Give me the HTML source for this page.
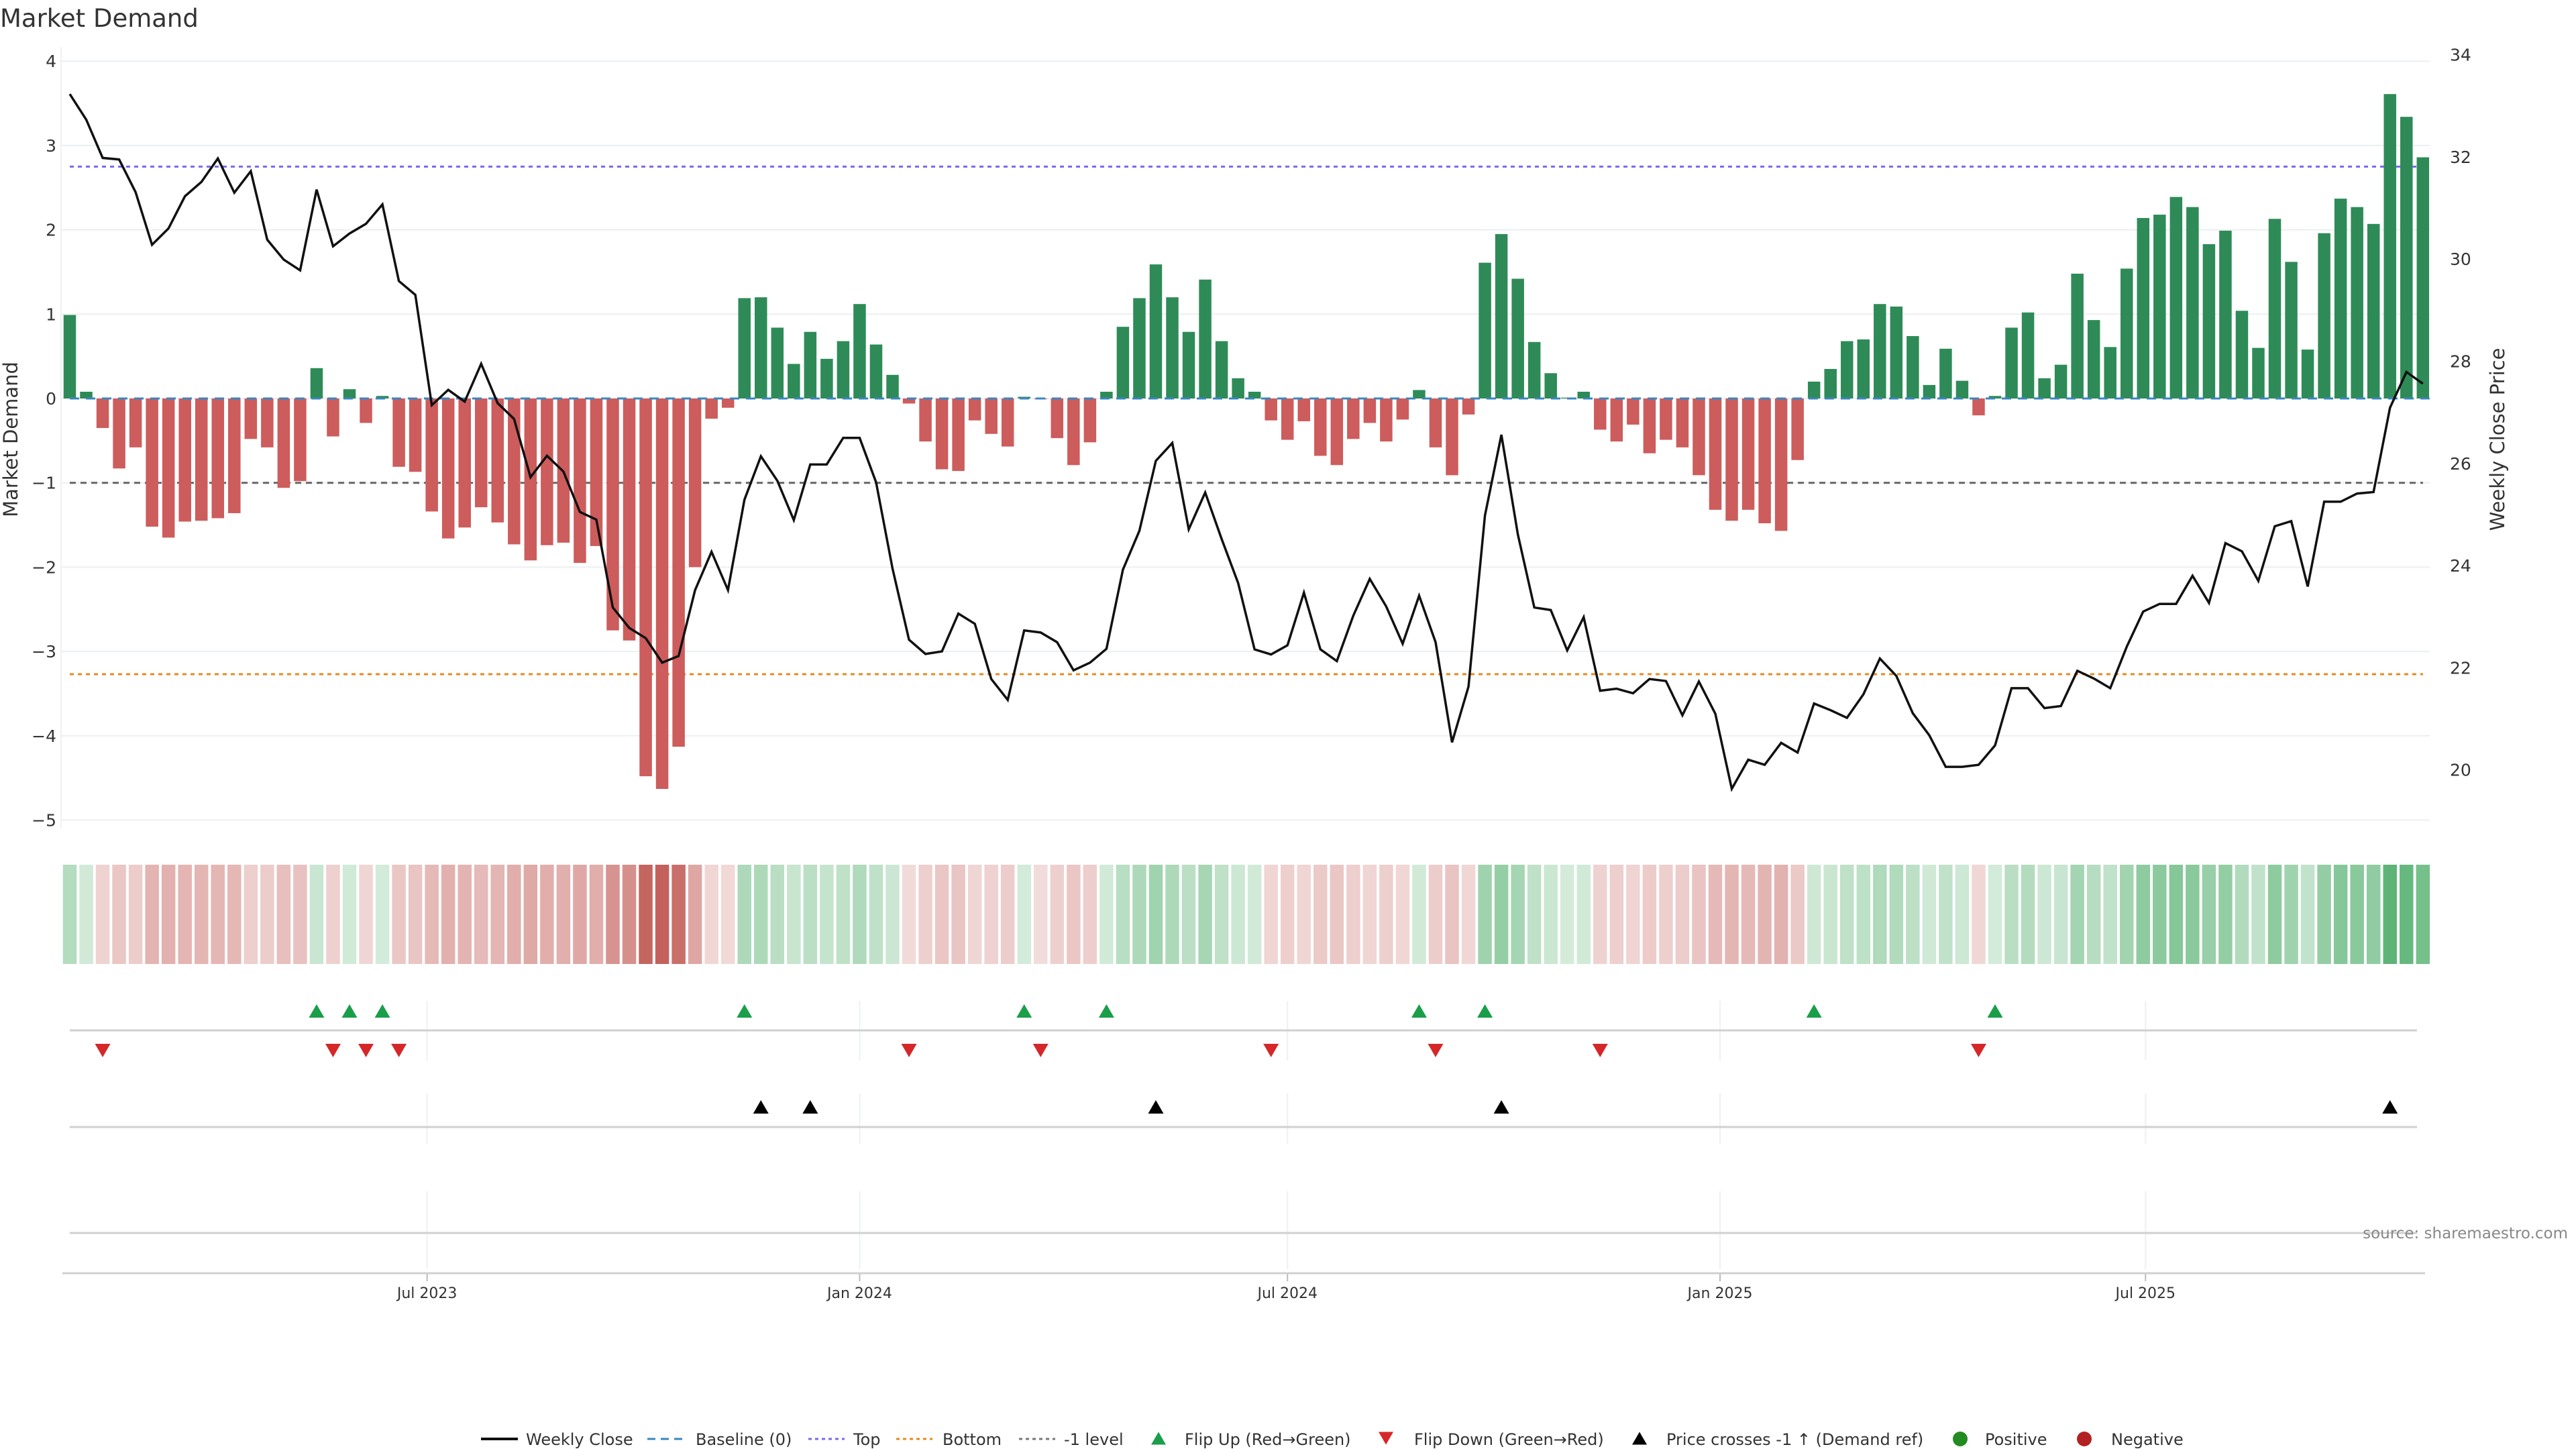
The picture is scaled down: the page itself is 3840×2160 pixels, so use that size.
<!DOCTYPE html>
<html><head><meta charset="utf-8"><title>Market Demand</title>
<style>
html,body{margin:0;padding:0;background:#fff;}
svg{display:block;font-family:"DejaVu Sans","Liberation Sans",sans-serif;}
</style></head>
<body>
<svg id="chart" width="3840" height="2160" viewBox="0 0 3840 2160" xmlns="http://www.w3.org/2000/svg">
<text x="0" y="40" font-size="37" fill="#333">Market Demand</text>
<g id="grid"></g><g id="refs"></g><g id="bars"></g><g id="baseline"></g><g id="line"></g>
<g id="heat"></g><g id="rows"></g><g id="axes"></g>
<text x="3828" y="1846" font-size="23" fill="#888" text-anchor="end">source: sharemaestro.com</text>
<g id="legend"></g>
</svg>
<script>
const demand = [0.99,0.08,-0.35,-0.83,-0.58,-1.52,-1.65,-1.46,-1.45,-1.42,-1.36,-0.48,-0.58,-1.06,-0.98,0.36,-0.45,0.11,-0.29,0.03,
-0.81,-0.87,-1.34,-1.66,-1.53,-1.29,-1.47,-1.73,-1.92,-1.74,-1.71,-1.95,-1.75,-2.75,-2.87,-4.48,-4.63,-4.13,-2.0,-0.24,
-0.11,1.19,1.2,0.84,0.41,0.79,0.47,0.68,1.12,0.64,0.28,-0.06,-0.51,-0.84,-0.86,-0.26,-0.42,-0.57,0.02,-0.01,
-0.47,-0.79,-0.52,0.08,0.85,1.19,1.59,1.2,0.79,1.41,0.68,0.24,0.08,-0.26,-0.49,-0.27,-0.68,-0.79,-0.48,-0.29,
-0.51,-0.25,0.1,-0.58,-0.91,-0.19,1.61,1.95,1.42,0.67,0.3,0.01,0.08,-0.37,-0.51,-0.31,-0.65,-0.49,-0.58,-0.91,
-1.32,-1.45,-1.32,-1.48,-1.57,-0.73,0.2,0.35,0.68,0.7,1.12,1.09,0.74,0.16,0.59,0.21,-0.2,0.03,0.84,1.02,
0.24,0.4,1.48,0.93,0.61,1.54,2.14,2.18,2.39,2.27,1.83,1.99,1.04,0.6,2.13,1.62,0.58,1.96,2.37,2.27,
2.07,3.61,3.34,2.86];
const price = [33.23,32.73,31.98,31.95,31.31,30.28,30.6,31.23,31.51,31.97,31.3,31.72,30.38,29.99,29.78,31.36,30.25,30.5,30.69,31.07,
29.57,29.3,27.14,27.44,27.21,27.95,27.18,26.87,25.73,26.15,25.84,25.05,24.9,23.18,22.78,22.58,22.1,22.23,23.52,24.27,
23.52,25.29,26.14,25.66,24.89,25.98,25.98,26.5,26.5,25.63,23.94,22.55,22.27,22.32,23.06,22.86,21.78,21.37,22.73,22.69,
22.5,21.95,22.1,22.37,23.92,24.68,26.05,26.4,24.71,25.43,24.52,23.66,22.36,22.26,22.44,23.47,22.36,22.13,23.02,23.74,
23.2,22.47,23.41,22.5,20.54,21.63,24.98,26.56,24.61,23.18,23.13,22.34,22.99,21.55,21.59,21.5,21.78,21.74,21.07,21.73,
21.1,19.63,20.2,20.1,20.53,20.34,21.3,21.17,21.02,21.48,22.18,21.84,21.11,20.68,20.06,20.06,20.1,20.48,21.6,21.6,
21.21,21.25,21.94,21.79,21.6,22.41,23.1,23.25,23.25,23.8,23.27,24.44,24.28,23.7,24.77,24.87,23.59,25.25,25.25,25.41,
25.44,27.09,27.79,27.56];
const leftTicks = [4,3,2,1,0,-1,-2,-3,-4,-5];
const rightTicks = [34,32,30,28,26,24,22,20];
const dateTicks = ["2023-07-01","2024-01-01","2024-07-01","2025-01-01","2025-07-01"];
const dateLabels = ["Jul 2023","Jan 2024","Jul 2024","Jan 2025","Jul 2025"];
const topLevel = 2.75, bottomLevel = -3.27, minusLevel = -1;
const startDate = "2023-01-30";

const NS="http://www.w3.org/2000/svg";
function mk(tag, attrs, parent){const e=document.createElementNS(NS,tag);for(const k in attrs)e.setAttribute(k,attrs[k]);parent.appendChild(e);return e;}
const X0=104, STEP=24.53, XL=91, XR=3622;
const xI = i => X0 + i*STEP;
const yD = v => 594 - v*125.7;
const yP = p => 81.6 + (34-p)*76.15;
const t0 = Date.parse(startDate);
const xDate = d => X0 + (Date.parse(d)-t0)/(7*864e5)*STEP;
const fmt = v => v<0 ? "\u2212"+Math.abs(v) : String(v);

const grid=document.getElementById('grid'), axes=document.getElementById('axes');
leftTicks.forEach(v=>{
  const g=mk('line',{x1:XL,x2:XR,y1:yD(v),y2:yD(v),stroke:'#eceff2','stroke-width':2},grid);
   
  const t=mk('text',{x:84,y:yD(v)+9,'font-size':25,fill:'#333','text-anchor':'end'},axes);
  t.textContent=fmt(v);
   
});
rightTicks.forEach(v=>{
  const t=mk('text',{x:3652,y:yP(v)+9,'font-size':25,fill:'#333'},axes);
  t.textContent=String(v);
   
});
mk('line',{x1:XL,x2:XL,y1:70,y2:1235,stroke:'#eef0f3','stroke-width':2},grid);
let at=mk('text',{x:0,y:0,'font-size':29,fill:'#333','text-anchor':'middle',transform:'translate(26,655) rotate(-90)'},axes);
at.textContent='Market Demand';  
at=mk('text',{x:0,y:0,'font-size':29,fill:'#333','text-anchor':'middle',transform:'translate(3733,655) rotate(-90)'},axes);
at.textContent='Weekly Close Price';  

// reference lines
const refs=document.getElementById('refs');
[[topLevel,'#7b68ee','6 6','top-line'],[bottomLevel,'#e8891c','6 6','bottom-line'],[minusLevel,'#666','9 7','minus-one-level']].forEach(r=>{
  const l=mk('line',{x1:X0,x2:XR-10,y1:yD(r[0]),y2:yD(r[0]),stroke:r[1],'stroke-width':3,'stroke-dasharray':r[2]},refs);
   
});

// bars
const bars=document.getElementById('bars');
demand.forEach((v,i)=>{
  const y=Math.min(yD(v),yD(0)), h=Math.abs(yD(v)-yD(0));
  const b=mk('rect',{x:xI(i)-9.25,y:y,width:18.5,height:Math.max(h,0.5),fill:v>=0?'#2e8b57':'#cd5c5c'},bars);
   
});
const bl=mk('line',{x1:X0,x2:xI(demand.length-1)+10,y1:yD(0),y2:yD(0),stroke:'#3a86c0','stroke-width':3,'stroke-dasharray':'14 10'},document.getElementById('baseline'));
 

// price line
const pl=mk('polyline',{points:price.map((p,i)=>xI(i)+','+yP(p)).join(' '),fill:'none',stroke:'#111','stroke-width':3.5,'stroke-linejoin':'miter'},document.getElementById('line'));
 

// heatmap
const heat=document.getElementById('heat');
const maxAbs=Math.max(...demand.map(Math.abs));
demand.forEach((v,i)=>{
  const a=0.22+0.78*Math.abs(v)/maxAbs;
  const base=v>=0?[60,165,90]:[196,97,92];
  const c=base.map(b=>Math.round(255-(255-b)*a));
  const r=mk('rect',{x:xI(i)-10.25,y:1289,width:20.5,height:148,fill:`rgb(${c[0]},${c[1]},${c[2]})`},heat);
   
});

// marker rows
const rows=document.getElementById('rows');
dateTicks.forEach((d,k)=>{
  const x=xDate(d);
  [[1492,1581],[1630,1705],[1776,1892]].forEach(s=>{
    const g=mk('line',{x1:x,x2:x,y1:s[0],y2:s[1],stroke:'#eef0f3','stroke-width':2},rows);
     
  });
  const tk=mk('line',{x1:x,x2:x,y1:1898,y2:1910,stroke:'#bbb','stroke-width':2},axes);
   
  const t=mk('text',{x:x,y:1935,'font-size':22,fill:'#333','text-anchor':'middle'},axes);
  t.textContent=dateLabels[k];
   
});
[1536,1680,1838].forEach(y=>{
  const l=mk('line',{x1:104,x2:3603,y1:y,y2:y,stroke:'#d0d0d0','stroke-width':3},rows);
   
});
const ax=mk('line',{x1:93,x2:3615,y1:1898,y2:1898,stroke:'#d0d0d0','stroke-width':3},axes);
 

function tri(x,y,up,color,name){
  const s=11.5,h=20;
  const pts=up?`${x-s},${y+h/2} ${x+s},${y+h/2} ${x},${y-h/2}`:`${x-s},${y-h/2} ${x+s},${y-h/2} ${x},${y+h/2}`;
  const p=mk('polygon',{points:pts,fill:color},rows);
   
}
const crossP = 34 - (yD(minusLevel)-81.6)/76.15;
for(let i=1;i<demand.length;i++){
  if(demand[i-1]<0 && demand[i]>=0) tri(xI(i),1507,true,'#1a9e4a','flip-up-marker');
  if(demand[i-1]>=0 && demand[i]<0) tri(xI(i),1566,false,'#d62728','flip-down-marker');
  if(price[i-1]<crossP && price[i]>=crossP) tri(xI(i),1650,true,'#000','price-cross-marker');
}

// legend
const lg=document.getElementById('legend');
function ltext(x,s,name){const t=mk('text',{x:x,y:2154,'font-size':24,fill:'#333'},lg);t.textContent=s;}
function lline(x1,x2,color,dash,w,name){const l=mk('line',{x1:x1,x2:x2,y1:2145,y2:2145,stroke:color,'stroke-width':w,'stroke-dasharray':dash},lg);}
lline(717,772,'#111','none',4,'legend-weekly-close-swatch'); ltext(784,'Weekly Close','legend-weekly-close');
lline(965,1019,'#3a86c0','12 8',3,'legend-baseline-swatch'); ltext(1037,'Baseline (0)','legend-baseline');
lline(1205,1259,'#7b68ee','5 5',3,'legend-top-swatch'); ltext(1272,'Top','legend-top');
lline(1336,1390,'#e8891c','5 5',3,'legend-bottom-swatch'); ltext(1405,'Bottom','legend-bottom');
lline(1519,1573,'#777','5 5',3,'legend-minus-one-swatch'); ltext(1586,'-1 level','legend-minus-one');
function ltri(x,up,color,name){const s=11,h=19,y=2144;const pts=up?`${x-s},${y+h/2} ${x+s},${y+h/2} ${x},${y-h/2}`:`${x-s},${y-h/2} ${x+s},${y-h/2} ${x},${y+h/2}`;const p=mk('polygon',{points:pts,fill:color},lg);}
ltri(1727,true,'#1a9e4a','legend-flip-up-swatch'); ltext(1766,'Flip Up (Red\u2192Green)','legend-flip-up');
ltri(2066,false,'#d62728','legend-flip-down-swatch'); ltext(2108,'Flip Down (Green\u2192Red)','legend-flip-down');
ltri(2444,true,'#000','legend-price-cross-swatch'); ltext(2484,'Price crosses -1 \u2191 (Demand ref)','legend-price-cross');
let c=mk('circle',{cx:2922,cy:2145,r:11,fill:'#228b22'},lg);  
ltext(2959,'Positive','legend-positive');
c=mk('circle',{cx:3107,cy:2145,r:11,fill:'#b22222'},lg);  
ltext(3147,'Negative','legend-negative');
</script>
</body></html>
